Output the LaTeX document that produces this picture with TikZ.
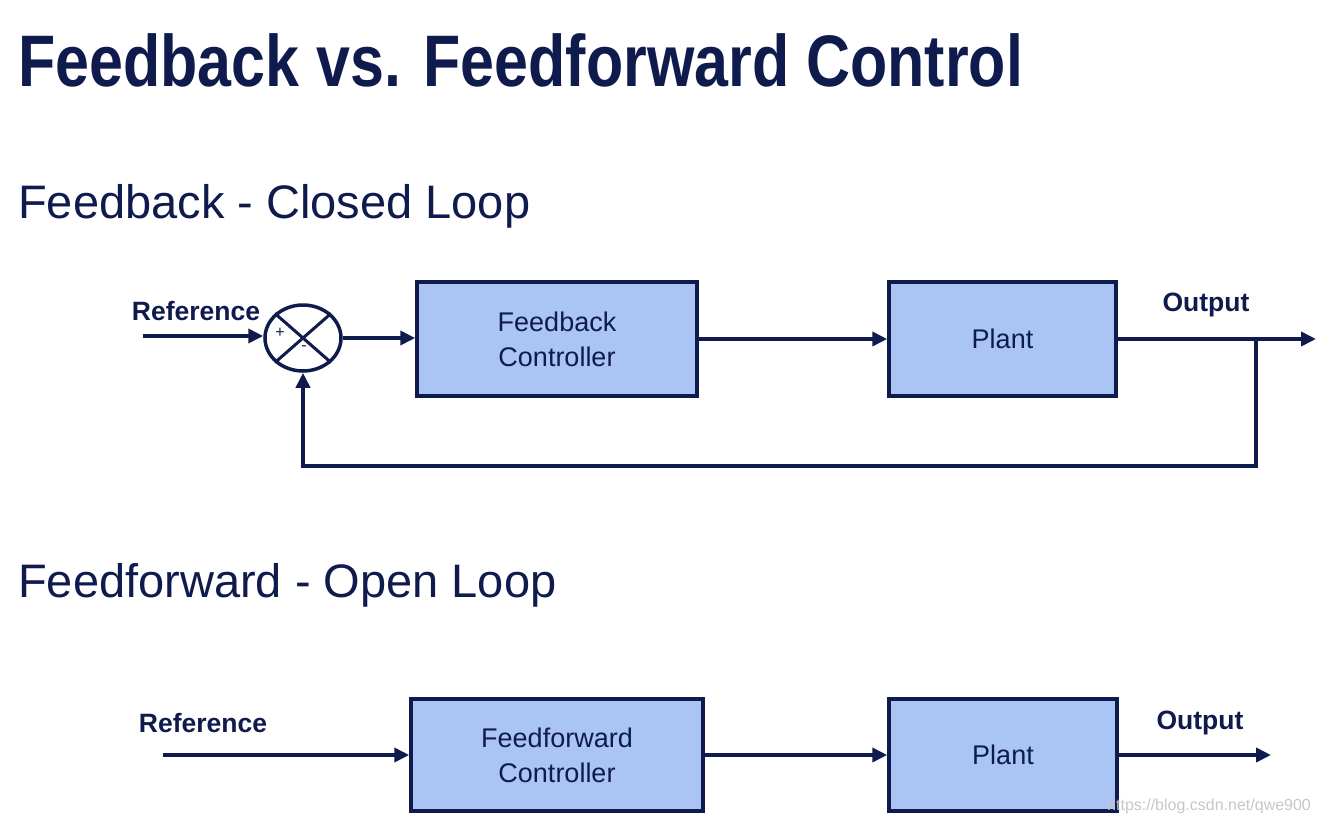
\documentclass[tikz,border=0pt]{standalone}
\usepackage{fontspec}
\setmainfont{Liberation Sans}
\usetikzlibrary{arrows.meta,shapes.geometric}
\definecolor{navy}{RGB}{16,27,77}
\definecolor{boxblue}{RGB}{169,196,245}
\begin{document}
\begin{tikzpicture}[x=1pt,y=-1pt,
  blk/.style={draw=navy,line width=3.5pt,fill=boxblue,minimum width=#1,inner sep=0pt,text=navy,font=\fontsize{27}{35}\selectfont,align=center},
  conn/.style={draw=navy,line width=3.8pt,-{Triangle[length=15pt,width=14pt]}},
  wire/.style={draw=navy,line width=3.8pt},
  lbl/.style={text=navy,font=\fontsize{26.5}{30}\selectfont\bfseries,inner sep=0pt},
  sub/.style={text=navy,font=\fontsize{47}{52}\selectfont,inner sep=0pt,anchor=west},
  sumj/.style={draw=navy,line width=3.5pt,fill=white,ellipse,minimum width=76pt,minimum height=66pt,inner sep=0pt}]
\useasboundingbox (0,0) rectangle (1318,827);
\fill[white] (0,0) rectangle (1318,827);
% title
\node[anchor=west,inner sep=0pt,text=navy] (title) at (18,60) {\scalebox{0.835}[1]{\fontsize{73}{80}\selectfont\bfseries Feedback vs. Feedforward Control}};
\node[sub] (sub1) at (18,206) {Feedback - Closed Loop};
\node[sub] (sub2) at (18,585) {Feedforward - Open Loop};
% closed loop
\node[sumj] (sum) at (303,338) {};
\draw[navy,line width=3pt] (sum.north west) -- (sum.south east) (sum.north east) -- (sum.south west);
\node[text=navy,inner sep=0pt,font=\fontsize{16}{16}\selectfont] (plus) at (280,333) {+};
\node[text=navy,inner sep=0pt,font=\fontsize{16}{16}\selectfont] (minus) at (304,348) {-};
\node[blk=280pt,minimum height=114pt] (fbc) at (557,339) {Feedback\\Controller};
\node[blk=227pt,minimum height=114pt] (plant1) at (1002.5,339) {Plant};
\coordinate (refin1) at (143,336);
\coordinate (out1) at (1316,339);
\coordinate (tap) at (1256,339);
\coordinate (cornerR) at (1256,466);
\coordinate (cornerL) at (303,466);
\node[lbl] (ref1) at (196,311) {Reference};
\node[lbl] (outl1) at (1206,305) {Output};
\draw[conn] (refin1) -- (refin1 -| sum.west);
\draw[conn] (sum.east) -- (sum.east -| fbc.west);
\draw[conn] (fbc.east) -- (fbc.east -| plant1.west);
\draw[conn] (plant1.east) -- (out1);
\draw[wire] (tap) -- (cornerR) -- (cornerL) -- ++(0,-1.9);
\draw[conn] (cornerL) -- (sum.south);
% open loop
\node[blk=292pt,minimum height=112pt] (ffc) at (557,755) {Feedforward\\Controller};
\node[blk=228pt,minimum height=112pt] (plant2) at (1003,755) {Plant};
\coordinate (refin2) at (163,755);
\coordinate (out2) at (1271,755);
\node[lbl] (ref2) at (203,723) {Reference};
\node[lbl] (outl2) at (1200,723) {Output};
\draw[conn] (refin2) -- (ffc.west);
\draw[conn] (ffc.east) -- (plant2.west);
\draw[conn] (plant2.east) -- (out2);
\node[text=black!22,inner sep=0pt,font=\fontsize{16}{16}\selectfont,anchor=west] (wm) at (1107,806) {https://blog.csdn.net/qwe900};
\end{tikzpicture}
\end{document}
